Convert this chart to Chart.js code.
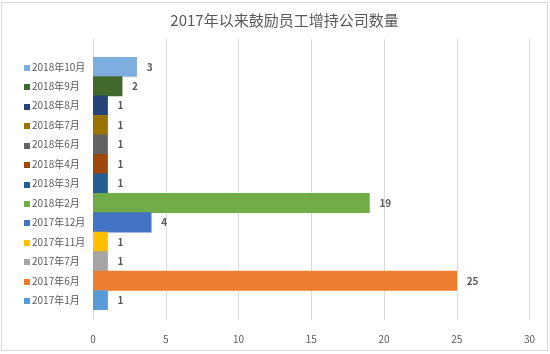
<!DOCTYPE html>
<html>
<head>
<meta charset="utf-8">
<script src="https://cdn.jsdelivr.net/npm/chart.js@4.4.0/dist/chart.umd.min.js"></script>
<style>
  body { margin: 0; background: #fff; }
  #wrap { position: absolute; left: 0; top: 0; width: 550px; height: 354px; }
  #frame { position: absolute; left: 1px; top: 2px; width: 545px; height: 347px; border: 1px solid #d9d9d9; pointer-events: none; }
</style>
</head>
<body>
<div id="wrap">
  <canvas id="chart" width="550" height="354"></canvas>
  <div id="frame"></div>
</div>
<script>
// data, top to bottom as in the picture
const months = ['2018年10月', '2018年9月', '2018年8月', '2018年7月', '2018年6月', '2018年4月', '2018年3月',
  '2018年2月', '2017年12月', '2017年11月', '2017年7月', '2017年6月', '2017年1月'];
const companyCounts = [3, 2, 1, 1, 1, 1, 1, 19, 4, 1, 1, 25, 1];
const barColors = ['#7eaee0', '#43682b', '#264478', '#997300', '#636363', '#9e480e', '#255e91',
  '#70ad47', '#4472c4', '#ffc000', '#a5a5a5', '#ed7d31', '#5b9bd5'];
const xTicks = [0, 5, 10, 15, 20, 25, 30];
const chartTitle = '2017年以来鼓励员工增持公司数量';

const txtColor = '#595959';
const cjkFont = '"Noto Sans CJK SC", "Noto Sans", sans-serif';

// vertical grid lines that run past the bars, like the Excel original
const gridPlugin = {
  id: 'tallGrid',
  beforeDatasetsDraw(chart) {
    const ctx = chart.ctx;
    const xs = chart.scales.x;
    const area = chart.chartArea;
    ctx.save();
    ctx.strokeStyle = '#d9d9d9';
    ctx.lineWidth = 1;
    xTicks.forEach(v => {
      const px = Math.round(xs.getPixelForValue(v)) + 0.5;
      ctx.beginPath();
      ctx.moveTo(px, area.top - 18);
      ctx.lineTo(px, area.bottom + 10);
      ctx.stroke();
    });
    ctx.restore();
  }
};

// value labels and the little colour squares in front of category names
const labelPlugin = {
  id: 'barLabels',
  afterDatasetsDraw(chart) {
    const ctx = chart.ctx;
    const meta = chart.getDatasetMeta(0);
    const ys = chart.scales.y;
    ctx.save();
    ctx.font = 'bold 10px ' + cjkFont;
    ctx.fillStyle = txtColor;
    ctx.textAlign = 'left';
    ctx.textBaseline = 'middle';
    meta.data.forEach((bar, i) => {
      ctx.fillText(String(companyCounts[i]), bar.x + 10, bar.y);
    });
    months.forEach((m, i) => {
      const py = ys.getPixelForTick(i);
      ctx.fillStyle = barColors[i];
      ctx.fillRect(24, Math.round(py) - 2, 6, 6);
    });
    ctx.restore();
  }
};

new Chart(document.getElementById('chart'), {
  type: 'bar',
  data: {
    labels: months,
    datasets: [{
      data: companyCounts,
      backgroundColor: barColors,
      borderWidth: 0,
      barPercentage: 1,
      categoryPercentage: 1
    }]
  },
  options: {
    indexAxis: 'y',
    responsive: false,
    animation: false,
    layout: { padding: { left: 32, right: 13, top: 0, bottom: 0 } },
    plugins: {
      legend: { display: false },
      tooltip: { enabled: false },
      title: {
        display: true,
        text: chartTitle,
        color: txtColor,
        font: { family: cjkFont, size: 15, weight: 'normal' },
        padding: { top: 11, bottom: 28 }
      }
    },
    scales: {
      x: {
        min: 0,
        max: 30,
        afterBuildTicks(scale) { scale.ticks = xTicks.map(v => ({ value: v })); },
        afterFit(scale) { scale.height = 44; },
        grid: { display: false },
        border: { display: false },
        ticks: { color: txtColor, padding: 15, font: { family: cjkFont, size: 10 } }
      },
      y: {
        afterFit(scale) { scale.width = 61; },
        grid: { display: false },
        border: { display: false },
        ticks: { color: txtColor, crossAlign: 'far', autoSkip: false, font: { family: cjkFont, size: 10 } }
      }
    }
  },
  plugins: [gridPlugin, labelPlugin]
});
</script>
</body>
</html>
